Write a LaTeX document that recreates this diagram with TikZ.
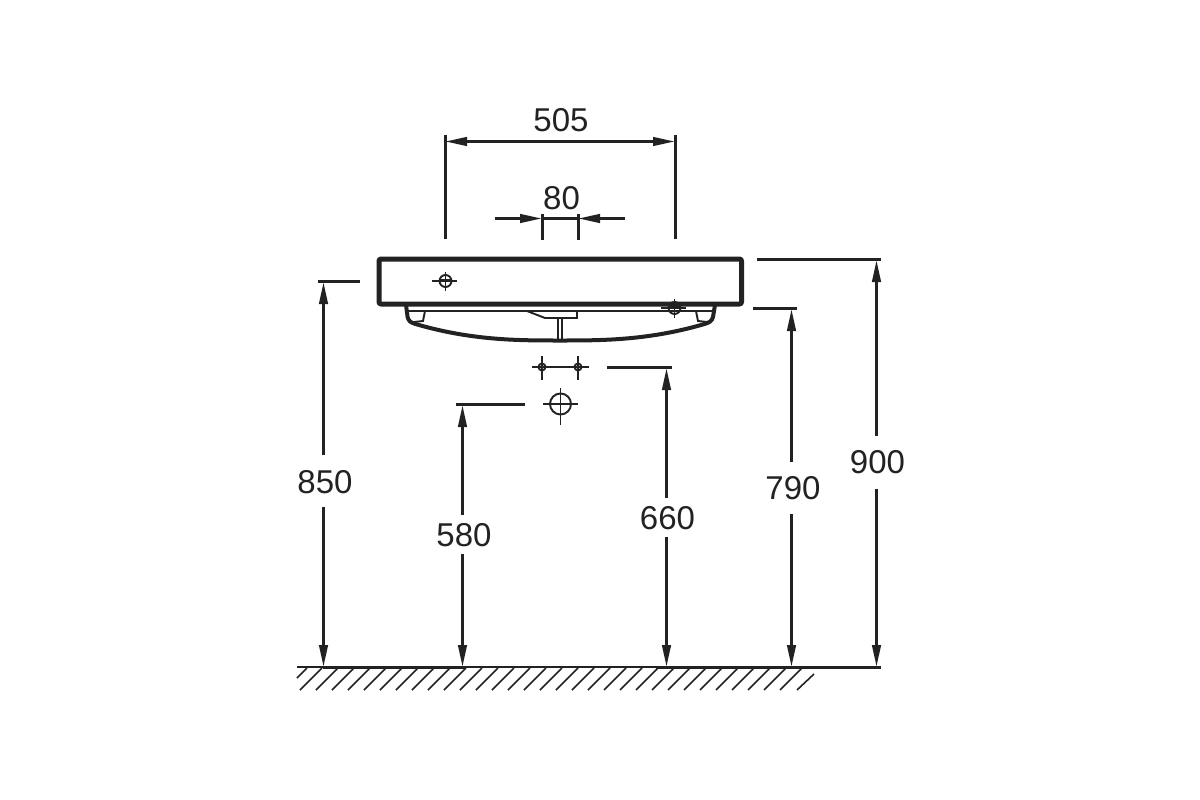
\documentclass[tikz,border=0pt]{standalone}
\usepackage{fontspec}
\setmainfont{Liberation Sans}
\usetikzlibrary{arrows.meta}
\definecolor{ink}{HTML}{222222}
\tikzset{
  dimline/.style={draw=ink,line width=2.8pt},
  dimarrow/.style={dimline,-{Triangle[length=22pt,width=8.5pt]}},
  extline/.style={draw=ink,line width=3pt},
  dimtext/.style={text=ink,font=\fontsize{33}{33}\selectfont,inner sep=0pt},
  bold/.style={draw=ink,line width=5pt,line join=round},
  basin/.style={draw=ink,line width=4pt,line join=round},
  thin/.style={draw=ink,line width=1.9pt},
  hatch/.style={draw=ink,line width=1.6pt},
}
\newcommand{\crosshair}[7]{%
  \draw[thin] (#1,#2) circle[radius=#3];
  \draw[thin] (#4,#2) -- (#5,#2);
  \draw[thin] (#1,#6) -- (#1,#7);
}
\newcommand{\vdim}[7]{%
  \coordinate (vt#7) at (#1,#2);
  \coordinate (vb#7) at (#1,667);
  \draw[dimarrow] (#1,#3) -- (vt#7);
  \draw[dimarrow] (#1,#4) -- (vb#7);
  \node[dimtext] (t#7) at (#5,#6) {#7};
}
\begin{document}
\begin{tikzpicture}[x=1pt,y=-1pt]
\useasboundingbox[fill=white] (0,0) rectangle (1200,800);
% basin body
\draw[bold,rounded corners=2pt] (379,259) rectangle (741.5,304);
\draw[basin,rounded corners=3pt] (406,305) -- (408,320) -- (412,323)
  .. controls (470,340) and (515,340.5) .. (560,340.5)
  .. controls (605,340.5) and (650,340) .. (708,323) -- (712.5,320) -- (715,305);
\draw[thin] (408,311) -- (712,311);
\draw[thin] (425,311) -- (423,321) -- (414,322);
\draw[thin] (696,311) -- (698,321) -- (707,322);
\draw[thin] (527,311) -- (545,318) -- (577,318) -- (577,311);
\draw[thin] (558,318) -- (558,340);
\draw[thin] (562,318) -- (562,340);
% crosshairs
\crosshair{445.5}{281}{6}{432}{457}{272}{291}
\draw[thin] (439,279.5) -- (452,279.5);
\crosshair{674.5}{308}{6}{661}{686}{299}{318}
\draw[thin] (668,306.5) -- (681,306.5);
\crosshair{542}{367}{3.5}{532}{560}{356}{380}
\crosshair{578}{367}{3.5}{560}{589}{356}{380}
\crosshair{560.5}{404}{10.5}{543}{578}{388}{425}
% floor
\draw[draw=ink,line width=1.6pt] (297,667) -- (881,667);
\draw[extline] (323,667) -- (465,667);
\draw[extline] (656,667) -- (881,667);
\draw[hatch] (297,678) -- (307,668);
\foreach \i in {0,...,30} {
  \draw[hatch] ({300+16*\i},690) -- ({322+16*\i},668);
}
\draw[hatch] (797,690) -- (814,674);
% top dimensions
\coordinate (wa) at (445,141.5); \coordinate (wb) at (675,141.5);
\draw[extline] (445,135) -- (445,239);
\draw[extline] (675,135) -- (675,239);
\draw[dimline,{Triangle[length=22pt,width=8.5pt]}-{Triangle[length=22pt,width=8.5pt]}] (wa) -- (wb);
\node[dimtext] (t505) at (561,120.5) {505};
\coordinate (na) at (542,218.5); \coordinate (nb) at (578,218.5);
\draw[extline] (542,214) -- (542,240);
\draw[extline] (578,214) -- (578,240);
\draw[dimline] (na) -- (nb);
\coordinate (nl) at (495,218.5); \coordinate (nr) at (625,218.5);
\draw[dimarrow] (nl) -- (na);
\draw[dimarrow] (nr) -- (nb);
\node[dimtext] (t80) at (561.5,198) {80};
% vertical dimensions
\draw[extline] (318,281) -- (360,281);
\vdim{323.5}{282}{455}{507}{325}{482}{850}
\draw[extline] (456,404) -- (525,404);
\vdim{462.5}{405}{515}{554}{464}{535}{580}
\draw[extline] (607,367) -- (672,367);
\vdim{666.5}{368}{498}{537}{667.5}{518}{660}
\draw[extline] (753,308) -- (797,308);
\vdim{791.5}{309}{462}{514}{793}{488}{790}
\draw[extline] (757,259) -- (881,259);
\vdim{876.5}{260}{436}{489}{877.5}{462.5}{900}
\end{tikzpicture}
\end{document}
